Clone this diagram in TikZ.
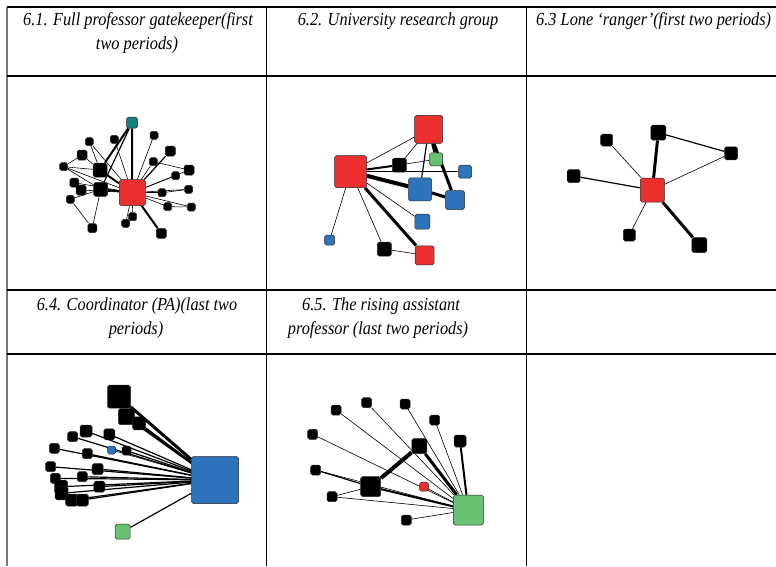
\documentclass[tikz,border=0pt]{standalone}
\usepackage{fontspec}
\usepackage{graphicx}
\setmainfont{Liberation Serif}
\usetikzlibrary{backgrounds}
\definecolor{nred}{RGB}{236,48,48}
\definecolor{nblue}{RGB}{46,116,188}
\definecolor{ngreen}{RGB}{102,194,113}
\definecolor{nteal}{RGB}{24,128,124}
\definecolor{gridgray}{RGB}{120,120,120}
\newcommand{\tallt}[1]{\scalebox{1.02}[1.15]{#1}}
\tikzset{
  nd/.style={draw=black!85, line width=0.5pt, rounded corners=1.8pt, minimum size=#1, inner sep=0pt},
  blk/.style={nd=#1, fill=black},
  rd/.style={nd=#1, fill=nred},
  bl/.style={nd=#1, fill=nblue},
  gr/.style={nd=#1, fill=ngreen},
  tl/.style={nd=#1, fill=nteal},
  ea/.style={line width=0.6pt},
  eb/.style={line width=1.2pt},
  ec/.style={line width=2pt},
  ed/.style={line width=3pt},
  ee/.style={line width=4pt},
  grid/.style={line width=1.3pt, black},
  ttl/.style={font=\itshape\fontsize{16}{18}\selectfont, inner sep=0pt, anchor=base}
}
\begin{document}
\begin{tikzpicture}[x=1pt,y=-1pt]
\useasboundingbox (0,0) rectangle (776,566);
% table
\draw[line width=1.6pt, gridgray] (7,7) -- (7,566);
\draw[grid] (7,7) -- (776,7);
\draw[grid] (7,76) -- (776,76);
\draw[grid] (7,290) -- (776,290);
\draw[grid] (7,354) -- (776,354);
\draw[grid] (266.5,7) -- (266.5,566);
\draw[grid] (526.5,7) -- (526.5,566);
% titles
\node[ttl] (t61a) at (138,25) {\tallt{6.1. Full professor gatekeeper(first}};
\node[ttl] (t61b) at (137,49) {\tallt{two periods)}};
\node[ttl] (t62) at (398,25) {\tallt{6.2. University research group}};
\node[ttl, anchor=base west] (t63) at (536,25) {\tallt{6.3 Lone ‘ranger’(first two periods)}};
\node[ttl] (t64a) at (137,310) {\tallt{6.4. Coordinator (PA)(last two}};
\node[ttl] (t64b) at (136,334) {\tallt{periods)}};
\node[ttl] (t65a) at (381,310) {\tallt{6.5. The rising assistant}};
\node[ttl] (t65b) at (378,334) {\tallt{professor (last two periods)}};

% ---------- 6.1 ----------
\node[rd=26pt] (r1) at (132.3,192.7) {};
\node[tl=11pt] (t1) at (132,122.7) {};
\node[blk=8pt] (a1) at (89.3,141.7) {};
\node[blk=8pt] (a2) at (114.3,139.3) {};
\node[blk=8pt] (a3) at (154,135.3) {};
\node[blk=10pt] (a4) at (82,155) {};
\node[blk=10pt] (a5) at (170.3,151) {};
\node[blk=8pt] (a6) at (63.7,166.7) {};
\node[blk=14pt] (a7) at (100,170) {};
\node[blk=8pt] (a8) at (153.3,161.7) {};
\node[blk=10pt] (a9) at (189,170) {};
\node[blk=8pt] (a10) at (175.7,175.7) {};
\node[blk=9pt] (a11) at (74.3,182.7) {};
\node[blk=10pt] (a12) at (81,190) {};
\node[blk=14pt] (a13) at (100.7,189.3) {};
\node[blk=8pt] (a14) at (162,192.7) {};
\node[blk=8pt] (a15) at (188.7,189.3) {};
\node[blk=8pt] (a16) at (70.3,199.3) {};
\node[blk=8pt] (a17) at (167.7,206.7) {};
\node[blk=8pt] (a18) at (191.3,207) {};
\node[blk=8pt] (a19) at (132.7,216.7) {};
\node[blk=8pt] (a20) at (125.7,223.3) {};
\node[blk=9pt] (a21) at (92.3,228) {};
\node[blk=10pt] (a22) at (161.3,233.3) {};
\begin{scope}[on background layer]
\foreach \n in {a1,a2,a3,a8,a9,a10,a14,a15,a17,a18,a19,a20,a11,a12,a6}
  \draw[ea] (r1) -- (\n);
\draw[eb] (r1) -- (a5);
\draw[ec] (r1) -- (a22);
\draw[ec] (r1) -- (a7);
\draw[ec] (r1) -- (a13);
\draw[ec] (t1) -- (r1);
\draw[ec] (t1) -- (a7);
\draw[eb] (t1) -- (a13);
\draw[ea] (a6) -- (a4);
\draw[ea] (a6) -- (a7);
\draw[ea] (a4) -- (a7);
\draw[ea] (a6) -- (a13);
\draw[ea] (a16) -- (a13);
\draw[ea] (a21) -- (a13);
\draw[ea] (a21) -- (a16);
\draw[ea] (a8) -- (a9);
\draw[ea] (a14) -- (a15);
\draw[ea] (a17) -- (a18);
\draw[ea] (a1) -- (a7);
\end{scope}

% ---------- 6.2 ----------
\node[rd=32pt] (R2) at (350.7,171.7) {};
\node[rd=28pt] (T2) at (428.7,129.3) {};
\node[gr=13pt] (G2) at (436,159.3) {};
\node[blk=14pt] (K2) at (399.3,165) {};
\node[bl=13pt] (B2a) at (465,171.7) {};
\node[bl=23pt] (B2b) at (420,189.3) {};
\node[bl=19pt] (B2c) at (455,200) {};
\node[bl=15pt] (B2d) at (422.3,221.7) {};
\node[bl=10pt] (B2e) at (329.7,240) {};
\node[blk=14pt] (K2b) at (384.3,249) {};
\node[rd=19pt] (R2b) at (424.7,255.3) {};
\begin{scope}[on background layer]
\draw[ea] (R2) -- (T2);
\draw[ec] (R2) -- (K2);
\draw[ea] (R2) -- (B2a);
\draw[ee] (R2) -- (B2b);
\draw[ea] (R2) -- (B2d);
\draw[ea] (R2) -- (K2b);
\draw[ed] (R2) -- (R2b);
\draw[ea] (R2) -- (B2e);
\draw[ea] (K2) -- (G2);
\draw[ea] (K2) -- (T2);
\draw[eb] (T2) -- (B2b);
\draw[ed] (T2) -- (B2c);
\draw[ec] (T2) -- (G2);
\draw[ed] (B2b) -- (B2c);
\draw[ea] (K2b) -- (R2b);
\end{scope}

% ---------- 6.3 ----------
\node[rd=24pt] (R3) at (652.3,190) {};
\node[blk=12pt] (c1) at (606.7,140) {};
\node[blk=15pt] (c2) at (658.3,132.7) {};
\node[blk=13pt] (c3) at (731,153.3) {};
\node[blk=13pt] (c4) at (573.7,176) {};
\node[blk=12pt] (c5) at (629.3,235) {};
\node[blk=15pt] (c6) at (699.3,245) {};
\begin{scope}[on background layer]
\draw[ea] (R3) -- (c1);
\draw[ed] (R3) -- (c2);
\draw[ea] (R3) -- (c3);
\draw[eb] (R3) -- (c4);
\draw[ea] (R3) -- (c5);
\draw[ed] (R3) -- (c6);
\draw[eb] (c2) -- (c3);
\end{scope}

% ---------- 6.4 ----------
\node[bl=47pt] (B4) at (215,480) {};
\node[gr=15pt] (G4) at (122.7,531.7) {};
\node[blk=23pt] (d1) at (119,396.7) {};
\node[blk=16pt] (d2) at (126.3,416.7) {};
\node[blk=13pt] (d3) at (139,423.3) {};
\node[blk=12pt] (d4) at (86,431) {};
\node[blk=10pt] (d5) at (72.7,436.7) {};
\node[blk=11pt] (d6) at (109.3,434.3) {};
\node[blk=10pt] (d7) at (54.3,448.3) {};
\node[blk=10pt] (d8) at (87.3,453.7) {};
\node[blk=9pt] (d9) at (126.7,450.7) {};
\node[blk=10pt] (d10) at (50.7,466.7) {};
\node[blk=11pt] (d11) at (97.7,469) {};
\node[blk=10pt] (d12) at (55.3,478.3) {};
\node[blk=10pt] (d13) at (82.3,476.7) {};
\node[blk=13pt] (d14) at (61,486.7) {};
\node[blk=11pt] (d15) at (99.3,486.7) {};
\node[blk=13pt] (d16) at (61.7,493.3) {};
\node[blk=12pt] (d17) at (71.7,500) {};
\node[blk=12pt] (d18) at (82.3,500) {};
\node[bl=8pt] (b4) at (111.7,450) {};
\begin{scope}[on background layer]
\draw[ed] (B4) -- (d1);
\draw[ec] (B4) -- (d2);
\draw[ec] (B4) -- (d3);
\foreach \n in {d4,d5,d6,d7,d8,d9,d10,d11,d12,d13,d14,d15,d16,d17,d18}
  \draw[eb] (B4) -- (\n);
\draw[ea] (B4) -- (b4);
\draw[eb] (B4) -- (G4);
\end{scope}

% ---------- 6.5 ----------
\node[gr=30pt] (G5) at (468.3,510) {};
\node[blk=20pt] (K5) at (370.7,486.7) {};
\node[blk=15pt] (M5) at (419.3,446) {};
\node[rd=9pt] (r5) at (424,486.7) {};
\node[blk=10pt] (e1) at (366.7,402.7) {};
\node[blk=10pt] (e2) at (405,404) {};
\node[blk=10pt] (e3) at (336,410) {};
\node[blk=10pt] (e4) at (434.7,420) {};
\node[blk=10pt] (e5) at (312.7,434.3) {};
\node[blk=12pt] (e6) at (460,441) {};
\node[blk=10pt] (e7) at (315.7,470) {};
\node[blk=10pt] (e8) at (332,496.7) {};
\node[blk=10pt] (e9) at (406.3,520) {};
\begin{scope}[on background layer]
\foreach \n in {e1,e2,e3,e4,e5,e7,e8,e9}
  \draw[ea] (G5) -- (\n);
\draw[ec] (G5) -- (e6);
\draw[ed] (G5) -- (M5);
\draw[ee] (K5) -- (M5);
\draw[ec] (K5) -- (G5);
\draw[ea] (r5) -- (G5);
\draw[eb] (e7) -- (K5);
\draw[ea] (e8) -- (K5);
\end{scope}
\end{tikzpicture}
\end{document}
